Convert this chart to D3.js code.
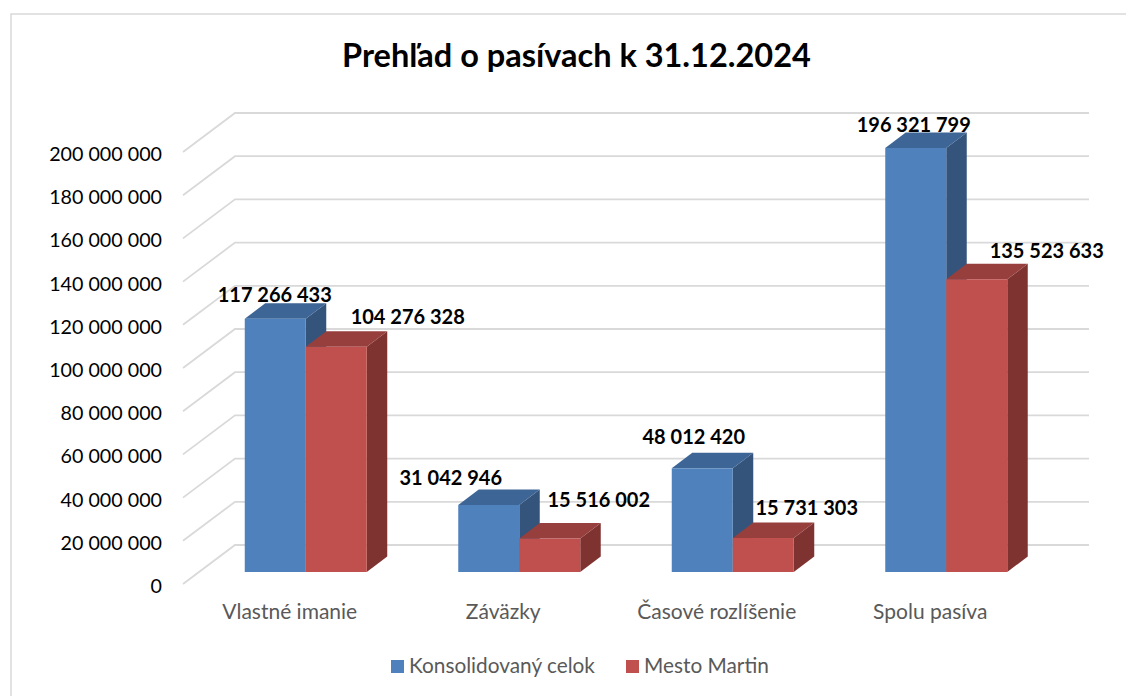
<!DOCTYPE html>
<html>
<head>
<meta charset="utf-8">
<script src="https://cdn.jsdelivr.net/npm/d3@7"></script>
<style>
  html, body { margin: 0; padding: 0; background: #fff; }
  svg { display: block; }
  text { font-family: Lato, "Open Sans", sans-serif; }
</style>
</head>
<body>
<div id="chart"></div>
<script>
// values
const categories = ['Vlastné imanie', 'Záväzky', 'Časové rozlíšenie', 'Spolu pasíva'];
const seriesNames = ['Konsolidovaný celok', 'Mesto Martin'];
const konsolidovany = [117266433, 31042946, 48012420, 196321799];
const mestoMartin = [104276328, 15516002, 15731303, 135523633];
const yTicks = [0, 20000000, 40000000, 60000000, 80000000, 100000000, 120000000, 140000000, 160000000, 180000000, 200000000];

const width = 1126, height = 696;

// fake 3D: floor depth of the plot, and where the bars stand in it
const wall = { dx: 52, dy: -39 };
const barInset = { dx: 16, dy: -12 };
const barDepth = { dx: 20.5, dy: -15.5 };

const palette = [
    { front: '#4f81bd', top: '#3d6595', side: '#34547c' },
    { front: '#c0504d', top: '#963f3d', side: '#7f3331' },
];

const fmt = v => d3.format(',')(v).replace(/,/g, ' ');

const svg = d3.select('#chart').append('svg')
    .attr('width', width)
    .attr('height', height);

// chart frame, cut off by the picture on the right and bottom
svg.append('path')
    .attr('d', 'M11,696V14H1126')
    .attr('fill', 'none')
    .attr('stroke', '#d9d9d9')
    .attr('stroke-width', 1.5);

svg.append('text')
    .attr('x', 576.5)
    .attr('y', 67)
    .attr('text-anchor', 'middle')
    .attr('font-size', 32.5)
    .attr('font-weight', 700)
    .attr('fill', '#000')
    .text('Prehľad o pasívach k 31.12.2024');

const y = d3.scaleLinear().domain([0, 200000000]).range([584, 152]);
const x0 = d3.scaleBand().domain(categories).range([183, 1037]);
const x = d3.scaleBand().domain(categories)
    .range([183 + barInset.dx, 1037 + barInset.dx])
    .paddingInner(0.4286)
    .paddingOuter(0.2143);

// gridlines, running up the left wall then along the back
svg.append('g').selectAll('path')
    .data(yTicks)
    .enter()
    .append('path')
    .attr('d', d => {
        const py = y(d);
        return `M${x0.range()[0]},${py}L${x0.range()[0] + wall.dx},${py + wall.dy}H${x0.range()[1] + wall.dx}`;
    })
    .attr('fill', 'none')
    .attr('stroke', '#d9d9d9')
    .attr('stroke-width', 1.8);

// y labels
svg.append('g').selectAll('text')
    .data(yTicks)
    .enter()
    .append('text')
    .attr('x', 162)
    .attr('y', d => y(d) + 9)
    .attr('text-anchor', 'end')
    .attr('font-size', 19.7)
    .attr('fill', '#000')
    .text(fmt);

// category labels
svg.append('g').selectAll('text')
    .data(categories)
    .enter()
    .append('text')
    .attr('x', d => x(d) + x.bandwidth() / 2 - 16)
    .attr('y', 619)
    .attr('text-anchor', 'middle')
    .attr('font-size', 21)
    .attr('fill', '#595959')
    .text(d => d);

// bars, one per series per category
const barW = x.bandwidth() / 2;
const bars = [];
[konsolidovany, mestoMartin].forEach((vals, s) => {
    vals.forEach((v, i) => bars.push({ s, i, v, cat: categories[i] }));
});

const barGroups = svg.append('g').selectAll('g')
    .data(bars)
    .enter()
    .append('g');

barGroups.each(function (d) {
    const g = d3.select(this);
    const left = x(d.cat) + d.s * barW;
    const right = left + barW;
    const bottom = y(0) + barInset.dy;
    const top = y(d.v) + barInset.dy;
    const c = palette[d.s];

    // side face
    g.append('path')
        .attr('d', `M${right},${top}l${barDepth.dx},${barDepth.dy}V${bottom + barDepth.dy}L${right},${bottom}Z`)
        .attr('fill', c.side);
    // top face
    g.append('path')
        .attr('d', `M${left},${top}l${barDepth.dx},${barDepth.dy}H${right + barDepth.dx}L${right},${top}Z`)
        .attr('fill', c.top);
    // front face
    g.append('rect')
        .attr('x', left)
        .attr('y', top)
        .attr('width', barW)
        .attr('height', bottom - top)
        .attr('fill', c.front);
});

// data labels were moved by hand in the original, so they sit off the bars
const labelShift = [
    [[-0.5, -25], [-38, -28], [-8.5, -32], [-2, -24]],
    [[71.5, -31], [49, -39.5], [43.5, -31], [70, -29]],
];

svg.append('g').selectAll('text')
    .data(bars)
    .enter()
    .append('text')
    .attr('x', d => x(d.cat) + (d.s + 0.5) * barW + labelShift[d.s][d.i][0])
    .attr('y', d => y(d.v) + barInset.dy + labelShift[d.s][d.i][1] + 8)
    .attr('text-anchor', 'middle')
    .attr('font-size', 20)
    .attr('font-weight', 700)
    .attr('fill', '#000')
    .text(d => fmt(d.v));

// legend
const legend = svg.append('g');
const legendX = [391, 626];
seriesNames.forEach((name, i) => {
    legend.append('rect')
        .attr('x', legendX[i])
        .attr('y', 660)
        .attr('width', 13)
        .attr('height', 13)
        .attr('fill', palette[i].front);
    legend.append('text')
        .attr('x', legendX[i] + 18)
        .attr('y', 673)
        .attr('font-size', 20.8)
        .attr('fill', '#595959')
        .text(name);
});
</script>
</body>
</html>
